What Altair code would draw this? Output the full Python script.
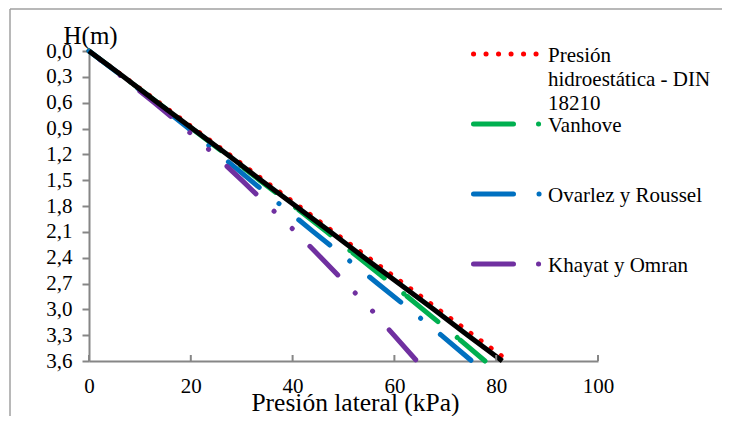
import altair as alt
import pandas as pd

# ---- data ----
H = [0.0, 0.3, 0.6, 0.9, 1.2, 1.5, 1.8, 2.1, 2.4, 2.7, 3.0, 3.3, 3.6]
p_din = [0.0, 6.9, 13.8, 20.6, 27.5, 34.3, 41.2, 48.0, 54.9, 61.8, 68.6, 75.5, 82.4]
p_vanhove = [0.0, 6.8, 13.5, 20.2, 26.9, 33.5, 40.2, 46.7, 53.0, 59.4, 65.6, 71.8, 77.8]
p_ovarlez = [0.0, 6.7, 13.2, 19.6, 25.6, 31.7, 37.9, 44.1, 50.4, 56.7, 63.0, 69.2, 75.2]
p_khayat = [0.0, 6.5, 12.8, 18.9, 24.6, 30.0, 35.3, 40.6, 45.6, 50.5, 55.4, 59.9, 64.4]
p_black = [0.0, 6.8, 13.5, 20.3, 27.1, 33.8, 40.6, 47.4, 54.1, 60.9, 67.7, 74.4, 81.2]

series = ["Presión hidroestática - DIN 18210", "Vanhove", "Ovarlez y Roussel", "Khayat y Omran"]
legend_labels = ["Presión\nhidroestática - DIN\n18210", "Vanhove", "Ovarlez y Roussel", "Khayat y Omran"]
colors = ["#FF0000", "#00B050", "#0070C0", "#7030A0"]
dashes = [[0.1, 12.4], [40, 25, 0.1, 4], [40, 25.5, 0.1, 25.5], [40, 25, 0.1, 25, 0.1, 25]]
dash_offsets = [0, 13, 4, 50.5]

x_ticks = [0, 20, 40, 60, 80, 100]
y_ticks = H

FONT = "Liberation Serif"
GRAY = "#868686"
W, HT = 509, 310

rows = []
for name, vals in zip(series, [p_din, p_vanhove, p_ovarlez, p_khayat]):
    for h, p in zip(H, vals):
        rows.append({"series": name, "H": h, "P": p})
df = pd.DataFrame(rows)
df_black = pd.DataFrame({"H": H, "P": p_black})

color_scale = alt.Scale(domain=series, range=colors)
dash_scale = alt.Scale(domain=series, range=dashes)

x_axis = alt.Axis(
    values=x_ticks, ticks=False, tickSize=0, grid=False,
    labelPadding=31, labelBaseline="alphabetic", labelFontSize=21,
    labelFont=FONT, labelColor="black", labelFlush=False, labelOverlap=False,
    domainColor=GRAY, domainWidth=2,
    title="Presión lateral (kPa)", titleFont=FONT, titleFontSize=25.5,
    titleFontWeight="normal", titleColor="black",
    titleX=266, titleY=49, titleAlign="center", titleBaseline="alphabetic",
)
y_axis = alt.Axis(
    values=y_ticks, grid=False,
    labelExpr="replace(format(datum.value, '.1f'), '.', ',')",
    tickSize=7, tickWidth=2, tickColor=GRAY,
    labelPadding=10, labelFontSize=21, labelFont=FONT, labelColor="black",
    labelOverlap=False, labelFlush=False,
    domainColor=GRAY, domainWidth=2,
    title="H(m)", titleFont=FONT, titleFontSize=25, titleFontWeight="normal",
    titleColor="black", titleAngle=0, titleX=-26, titleY=-8,
    titleAlign="left", titleBaseline="alphabetic",
)
x_scale = alt.Scale(domain=[0, 100], nice=False)
y_scale = alt.Scale(domain=[0, 3.6], reverse=True, nice=False, zero=False)


def xe():
    return alt.X("P:Q", scale=x_scale, axis=x_axis)


def ye():
    return alt.Y("H:Q", scale=y_scale, axis=y_axis)


line_layers = []
for i, name in enumerate(series):
    line_layers.append(
        alt.Chart(df).transform_filter(alt.datum.series == name).mark_line(
            strokeWidth=5, strokeCap="round", strokeJoin="round",
            strokeDashOffset=dash_offsets[i],
        ).encode(
            x=xe(),
            y=ye(),
            color=alt.Color("series:N", scale=color_scale, legend=None),
            strokeDash=alt.StrokeDash("series:N", scale=dash_scale, legend=None),
        )
    )

black = alt.Chart(df_black).mark_line(strokeWidth=5, color="black", strokeCap="butt").encode(
    x=xe(), y=ye()
)

xticks = alt.Chart(pd.DataFrame({"P": x_ticks})).mark_rule(color=GRAY, strokeWidth=2).encode(
    x=xe(), y=alt.value(HT), y2=alt.value(HT - 6)
)

# chart border (outer frame)
one = pd.DataFrame({"a": [0]})
frame_left = alt.Chart(one).mark_rule(color="#a0a0a0", strokeWidth=1.5).encode(
    x=alt.value(-79), y=alt.value(-42), y2=alt.value(380)
)
frame_top = alt.Chart(one).mark_rule(color="#a0a0a0", strokeWidth=1.5).encode(
    x=alt.value(-79), x2=alt.value(633), y=alt.value(-42)
)

# legend
leg_df = pd.DataFrame({"series": series, "label": legend_labels})
leg_y = [3, 73, 143, 213]
legend_layers = []
for i in range(len(series)):
    sub = leg_df.iloc[[i]]
    legend_layers.append(
        alt.Chart(sub).mark_rule(strokeWidth=5, strokeCap="round").encode(
            x=alt.value(384.5), x2=alt.value(453), y=alt.value(leg_y[i]),
            color=alt.Color("series:N", scale=color_scale, legend=None),
            strokeDash=alt.StrokeDash("series:N", scale=dash_scale, legend=None),
        )
    )
    legend_layers.append(
        alt.Chart(sub).mark_text(
            align="left", baseline="alphabetic", font=FONT, fontSize=21,
            lineBreak="\n", lineHeight=24, color="black",
        ).encode(x=alt.value(459), y=alt.value(leg_y[i] + 8), text="label:N")
    )

chart = alt.layer(
    *line_layers, black, xticks, frame_left, frame_top, *legend_layers
).properties(
    width=W, height=HT,
    padding={"left": 81, "top": 43, "right": 124, "bottom": 55},
    autosize=alt.AutoSizeParams(type="none"),
).configure(
    background="white", font=FONT,
    style={"guide-label": {"font": FONT}, "guide-title": {"font": FONT}},
).configure_view(stroke=None).configure_axis(
    labelFont=FONT, titleFont=FONT, labelOverlap=False
)

chart.save("out.html", embed_options={"renderer": "svg", "actions": False})
